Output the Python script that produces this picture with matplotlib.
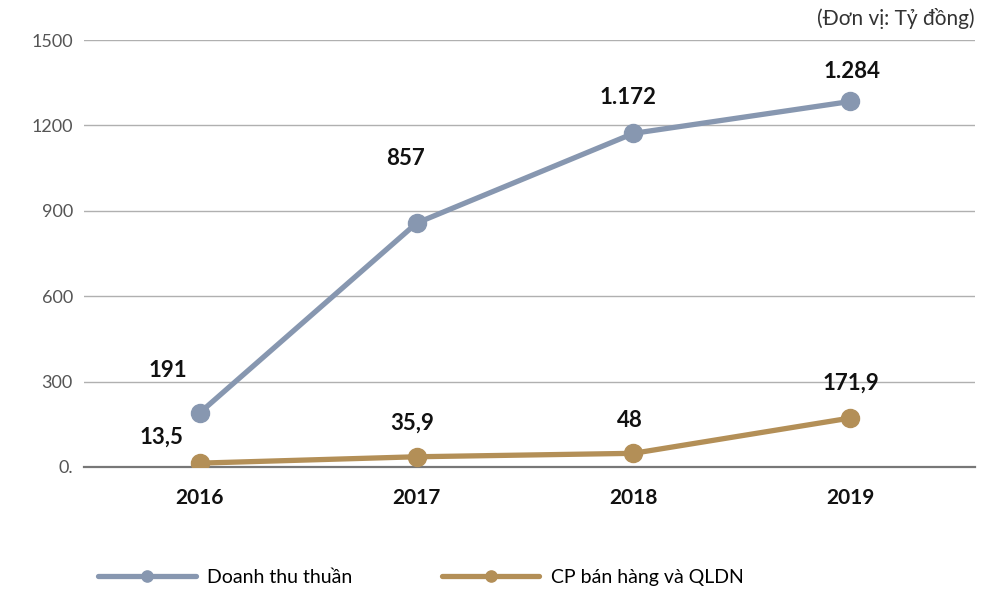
import matplotlib
matplotlib.use('Agg')
import matplotlib.pyplot as plt

years = ['2016', '2017', '2018', '2019']
doanh_thu = [191, 857, 1172, 1284]
chi_phi = [13.5, 35.9, 48, 171.9]
doanh_thu_labels = ['191', '857', '1.172', '1.284']
chi_phi_labels = ['13,5', '35,9', '48', '171,9']
y_ticks = [0, 300, 600, 900, 1200, 1500]
y_tick_labels = ['0.', '300', '600', '900', '1200', '1500']

# label offsets in pixels (dx, dy) relative to the marker
doanh_thu_offsets = [(-32, 42), (-11, 65), (-5, 36), (2, 30)]
chi_phi_offsets = [(-39, 26), (-5, 34), (-4, 33), (1, 35)]

blue = '#8797b0'
brown = '#b38f57'

plt.rcParams['font.family'] = ['Lato', 'DejaVu Sans']

fig = plt.figure(figsize=(9.98, 5.90), dpi=100)
ax = fig.add_axes([0.0842, 0.2085, 0.893, 0.7237])

x = range(len(years))
ax.plot(x, doanh_thu, color=blue, lw=3.8, marker='o', ms=13, zorder=3,
        solid_capstyle='round', label='Doanh thu thuần')
ax.plot(x, chi_phi, color=brown, lw=3.8, marker='o', ms=13, zorder=3,
        solid_capstyle='round', label='CP bán hàng và QLDN')

for vals, labels, offs in [(doanh_thu, doanh_thu_labels, doanh_thu_offsets),
                           (chi_phi, chi_phi_labels, chi_phi_offsets)]:
    for i, (v, t, (dx, dy)) in enumerate(zip(vals, labels, offs)):
        ax.annotate(t, (i, v), xytext=(dx * 0.72, dy * 0.72), textcoords='offset points',
                    ha='center', va='center', fontsize=16, fontweight='bold', color='#111111')

ax.set_xlim(-0.535, 3.577)
ax.set_ylim(0, 1500)
ax.set_yticks(y_ticks)
ax.set_yticklabels(y_tick_labels, fontsize=13, color='#555555')
ax.set_xticks(list(x))
ax.set_xticklabels(years, fontsize=15, fontweight='bold', color='#111111')
ax.tick_params(axis='both', length=0)
ax.tick_params(axis='y', pad=8)
ax.tick_params(axis='x', pad=15)
ax.grid(axis='y', color='#b0b0b0', lw=1)
ax.set_axisbelow(True)
for s in ['top', 'right', 'left']:
    ax.spines[s].set_visible(False)
ax.spines['bottom'].set_color('#777777')
ax.spines['bottom'].set_linewidth(1.6)

fig.text(0.977, 0.968, '(Đơn vị: Tỷ đồng)', ha='right', va='center',
         fontsize=15, color='#333333')

fig.legend(loc='center left', bbox_to_anchor=(0.081, 0.022), ncol=2, frameon=False,
           handlelength=5.0, columnspacing=4.6, handletextpad=0.6,
           prop={'family': ['Liberation Sans Narrow', 'Lato', 'DejaVu Sans'], 'size': 14},
           markerscale=0.62)

plt.savefig('out.png', dpi=100)
plt.close()
